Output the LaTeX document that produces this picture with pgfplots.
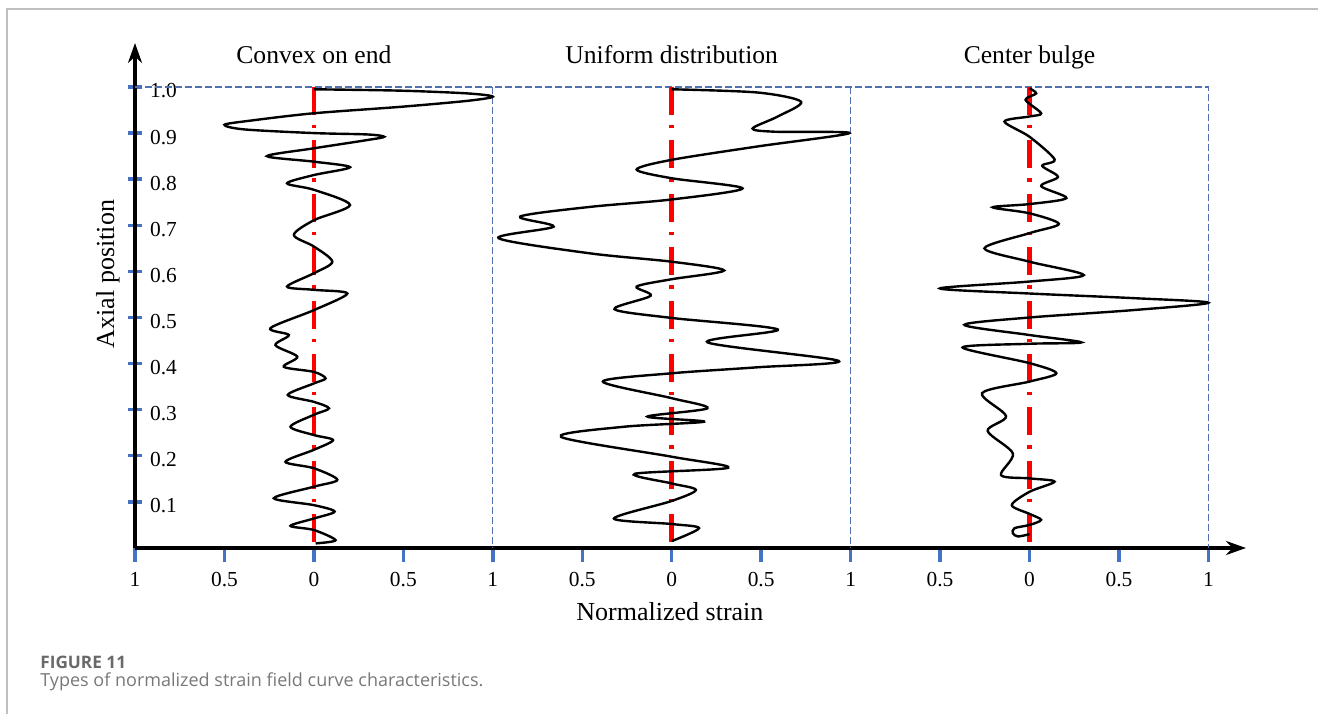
\documentclass[border=0pt]{standalone}
\usepackage{fontspec}
\setmainfont{Liberation Serif}
\newfontfamily\capfont{Open Sans}
\usepackage{pgfplots}
\usepackage{pgfplotstable}
\pgfplotsset{compat=1.18}
\usetikzlibrary{arrows.meta}
\definecolor{tickblue}{RGB}{68,114,196}
\definecolor{frameblue}{RGB}{80,112,176}
\definecolor{capgray}{RGB}{105,105,105}

% panel 1: Convex on end (strain, position)
\pgfplotstableread{
s p
0 0.995
0.486 0.992
0.860 0.986
1.0 0.979
0.86 0.970
0.486 0.957
0 0.943
-0.355 0.927
-0.50 0.918
-0.39 0.908
0 0.900
0.30 0.897
0.393 0.892
0.30 0.885
0 0.867
-0.262 0.850
0 0.838
0.202 0.826
0 0.809
-0.150 0.791
0 0.777
0.202 0.744
0 0.711
-0.112 0.679
0 0.654
0.103 0.621
0 0.596
-0.150 0.567
0 0.560
0.187 0.552
0 0.516
-0.243 0.477
-0.140 0.462
-0.215 0.440
-0.093 0.415
-0.168 0.393
0 0.382
0.065 0.368
0 0.357
-0.146 0.332
0 0.317
0.084 0.303
0 0.289
-0.131 0.263
0 0.245
0.107 0.234
0 0.213
-0.159 0.187
0 0.173
0.131 0.148
0 0.133
-0.224 0.108
0 0.093
0.116 0.079
0 0.064
-0.131 0.048
0 0.039
0.121 0.017
0.01 0.010
}\convex

% panel 2: Uniform distribution
\pgfplotstableread{
s p
0 0.995
0.48 0.988
0.723 0.968
0.593 0.936
0.452 0.910
0.574 0.903
0.994 0.900
0.48 0.871
0 0.842
-0.196 0.821
0 0.802
0.396 0.780
0 0.756
-0.454 0.740
-0.847 0.719
-0.66 0.697
-0.968 0.672
-0.454 0.639
0 0.621
0.293 0.602
0 0.583
-0.196 0.567
-0.118 0.547
-0.320 0.518
0 0.499
0.593 0.474
0.20 0.446
0.933 0.406
0.48 0.392
0 0.379
-0.385 0.361
0 0.325
0.20 0.303
-0.136 0.285
0.181 0.274
-0.267 0.263
-0.619 0.241
0 0.198
0.316 0.174
-0.206 0.161
0 0.140
0.135 0.126
0 0.102
-0.323 0.064
0 0.052
0.153 0.043
0 0.015
}\uniform

% panel 3: Center bulge
\pgfplotstableread{
s p
0 0.997
0.037 0.986
-0.022 0.972
0.065 0.943
0 0.936
-0.140 0.925
0 0.892
0.140 0.843
0.071 0.829
0.159 0.805
0.065 0.785
0.206 0.759
0 0.746
-0.206 0.739
0 0.726
0.164 0.703
0 0.683
-0.252 0.650
0 0.621
0.303 0.592
0 0.578
-0.501 0.563
0 0.552
0.579 0.542
1.0 0.532
0.579 0.516
0 0.500
-0.364 0.484
0 0.462
0.290 0.446
0 0.443
-0.374 0.435
0 0.401
0.150 0.379
0 0.361
-0.265 0.336
-0.131 0.286
-0.234 0.254
-0.093 0.205
-0.159 0.158
0 0.151
0.140 0.144
0 0.122
-0.099 0.093
0 0.074
0.065 0.061
0 0.050
-0.084 0.043
-0.093 0.032
-0.065 0.025
0 0.030
}\bulge

\begin{document}
\begin{tikzpicture}
\useasboundingbox (0,0) rectangle (659pt,356.5pt);
\draw[color=black!25, line width=0.8pt] (3.5pt,-5pt) -- (3.5pt,352pt) -- (700pt,352pt);
\begin{axis}[
  at={(67.5pt,82.5pt)}, anchor=south west,
  scale only axis, width=555.5pt, height=252.5pt,
  xmin=-1, xmax=5.21, ymin=0, ymax=1.0954,
  axis lines=left,
  axis line style={line width=2pt, -{Stealth[length=10pt,width=7pt]}},
  clip=false,
  xtick={-1,-0.5,0,0.5,1,1.5,2,2.5,3,3.5,4,4.5,5},
  xticklabels={1,0.5,0,0.5,1,0.5,0,0.5,1,0.5,0,0.5,1},
  ytick={0.1,0.2,0.3,0.4,0.5,0.6,0.7,0.8,0.9,1.0},
  yticklabels={0.1,0.2,0.3,0.4,0.5,0.6,0.7,0.8,0.9,1.0},
  tick align=center, major tick length=7pt,
  tick style={color=tickblue, line width=1.7pt},
  xtick style={yshift=-3.5pt},
  /pgf/number format/assume math mode=true,
  tick label style={font=\fontsize{10.7}{12}\selectfont},
  xticklabel style={anchor=north, yshift=-5pt},
  yticklabel style={anchor=west, xshift=7.5pt, yshift=-2pt},
  xlabel={Normalized strain}, ylabel={Axial position},
  every axis x label/.style={at={(axis description cs:0.4815,-0.1426)}, anchor=base, font=\fontsize{13}{15}\selectfont},
  every axis y label/.style={at={(axis description cs:-0.0243,0.5426)}, rotate=90, anchor=center, font=\fontsize{13}{15}\selectfont},
]
% dashed blue frames
\addplot[frameblue, line width=0.65pt, dash pattern=on 3.5pt off 1.5pt] coordinates {(-1,1) (5,1) (5,0)};
\addplot[frameblue, line width=0.65pt, dash pattern=on 3.5pt off 1.5pt] coordinates {(1,1) (1,0)};
\addplot[frameblue, line width=0.65pt, dash pattern=on 3.5pt off 1.5pt] coordinates {(3,1) (3,0)};
% red centre lines
\addplot[red, line width=2.3pt, dash pattern=on 14pt off 5pt on 1.7pt off 6pt] coordinates {(0,1) (0,0)};
\addplot[red, line width=2.3pt, dash pattern=on 14pt off 5pt on 1.7pt off 6pt] coordinates {(2,1) (2,0)};
\addplot[red, line width=2.3pt, dash pattern=on 14pt off 5pt on 1.7pt off 6pt] coordinates {(4,1) (4,0)};
% curves
\addplot[black, line width=1.2pt, smooth] table[x expr=\thisrow{s}, y=p] {\convex};
\addplot[black, line width=1.2pt, smooth] table[x expr=\thisrow{s}+2, y=p] {\uniform};
\addplot[black, line width=1.2pt, smooth] table[x expr=\thisrow{s}+4, y=p] {\bulge};
% titles
\node[anchor=base, font=\fontsize{12.8}{15}\selectfont] at (axis cs:0,1.052) {Convex on end};
\node[anchor=base, font=\fontsize{12.8}{15}\selectfont] at (axis cs:2,1.052) {Uniform distribution};
\node[anchor=base, font=\fontsize{12.8}{15}\selectfont] at (axis cs:4,1.052) {Center bulge};
\end{axis}
\node[anchor=base west, inner sep=0pt, text=capgray, font=\capfont\bfseries\fontsize{8.6}{10}\selectfont] at (20pt,22.5pt) {FIGURE 11};
\node[anchor=base west, inner sep=0pt, text=capgray!90, font=\capfont\fontsize{9.0}{11}\selectfont] at (20pt,13.5pt) {Types of normalized strain field curve characteristics.};
\end{tikzpicture}
\end{document}
